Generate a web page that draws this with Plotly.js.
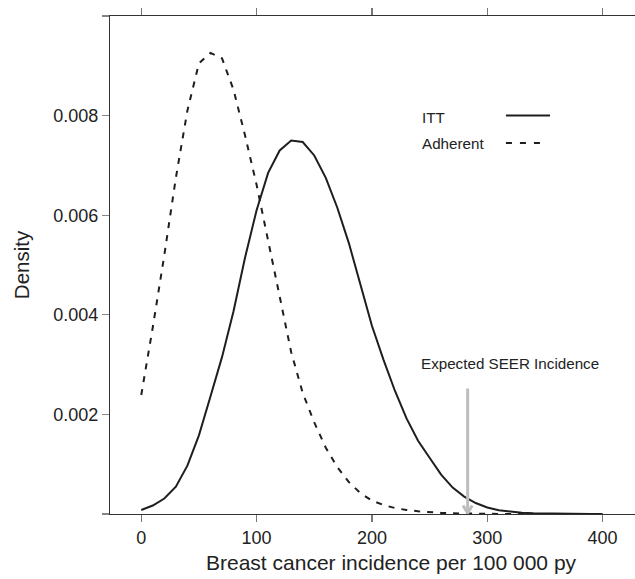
<!DOCTYPE html>
<html>
<head>
<meta charset="utf-8">
<script src="https://cdn.plot.ly/plotly-3.0.1.min.js"></script>
<style>html,body{margin:0;padding:0;background:#fff;}#chart{width:635px;height:579px;}</style>
</head>
<body>
<div id="chart"></div>
<script>
// Incidence grid (per 100 000 py)
var incidence = [0,10,20,30,40,50,60,70,80,90,100,110,120,130,140,150,160,170,180,190,200,210,220,230,240,250,260,270,280,290,300,310,320,330,340,350,360,370,380,390,400];
// Density values (x 0.001)
var ittDensityK = [0.08,0.17,0.31,0.55,0.97,1.58,2.36,3.15,4.07,5.15,6.1,6.85,7.3,7.5,7.47,7.2,6.75,6.15,5.44,4.6,3.78,3.1,2.47,1.92,1.47,1.13,0.79,0.53,0.35,0.22,0.13,0.075,0.045,0.025,0.015,0.01,0.006,0.003,0.002,0.001,0.0];
var adherentDensityK = [2.39,3.75,5.2,6.75,8.1,9.05,9.26,9.15,8.52,7.6,6.61,5.48,4.37,3.25,2.43,1.84,1.33,0.94,0.64,0.42,0.27,0.18,0.12,0.08,0.055,0.035,0.022,0.014,0.008,0.005,0.003,0.002,0.001,0.0,0.0,0.0,0.0,0.0,0.0,0.0,0.0];
var seriesNames = ["ITT","Adherent"];
var xTicks = [0,100,200,300,400];
var yTicks = [0.002,0.004,0.006,0.008];
var yTickText = ["0.002","0.004","0.006","0.008"];
var seerIncidence = 283;
var seerLabel = "Expected SEER Incidence";
var xTitle = "Breast cancer incidence per 100 000 py";
var yTitle = "Density";

var toDensity = function(a){ return a.map(function(v){ return v/1000; }); };
var ink = "#1e1e1e";
var font = "Liberation Sans, Arial, Helvetica, sans-serif";

var traces = [
  {x: incidence, y: toDensity(ittDensityK), name: seriesNames[0], type: "scatter", mode: "lines",
   line: {color: ink, width: 2}, hoverinfo: "skip"},
  {x: incidence, y: toDensity(adherentDensityK), name: seriesNames[1], type: "scatter", mode: "lines",
   line: {color: ink, width: 2, dash: "6px,7px"}, hoverinfo: "skip"}
];

var layout = {
  width: 635, height: 579,
  margin: {l: 110, r: 0, t: 16, b: 65},
  paper_bgcolor: "#fff", plot_bgcolor: "#fff",
  showlegend: false,
  font: {family: font, color: "#222"},
  xaxis: {
    range: [-27.1, 428.1], tickvals: xTicks, ticktext: xTicks.map(String),
    ticks: "outside", ticklen: 7, tickwidth: 1.2, tickcolor: "#777",
    showline: true, linecolor: "#333", linewidth: 1.2, mirror: "ticks",
    showgrid: false, zeroline: false,
    tickfont: {size: 18, color: "#222", family: font}
  },
  yaxis: {
    range: [0, 0.01], tickvals: yTicks, ticktext: yTickText,
    ticks: "outside", ticklen: 7, tickwidth: 1.2, tickcolor: "#888",
    showline: true, linecolor: "#333", linewidth: 1.2,
    showgrid: false, zeroline: false,
    tickfont: {size: 18, color: "#222", family: font},
    title: {text: yTitle, font: {size: 20.5, color: "#222", family: font}, standoff: 18}
  },
  shapes: [
    {type: "line", xref: "paper", yref: "paper", x0: -8/525, x1: 0, y0: 0, y1: 0, line: {color: "#333", width: 1.2}},
    {type: "line", xref: "paper", yref: "paper", x0: -8/525, x1: 0, y0: 1, y1: 1, line: {color: "#333", width: 1.2}},
    // legend samples
    {type: "line", xref: "x", yref: "y", x0: 316.2, x1: 354.4, y0: 0.00800, y1: 0.00800, line: {color: ink, width: 2}},
    {type: "line", xref: "x", yref: "y", x0: 316.2, x1: 350.5, y0: 0.00745, y1: 0.00745, line: {color: ink, width: 2, dash: "6px,8px"}},
    // SEER arrow
    {type: "line", xref: "x", yref: "y", x0: seerIncidence, x1: seerIncidence, y0: 0.00252, y1: 0.00003, line: {color: "#bdbdbd", width: 3}},
    {type: "path", xref: "x", yref: "y", path: "M " + (seerIncidence-4) + ",0.00017 L " + seerIncidence + ",0.00002 L " + (seerIncidence+4) + ",0.00017",
     line: {color: "#bdbdbd", width: 3}}
  ],
  annotations: [
    {xref: "x", yref: "y", x: 242, y: 0.00797, text: seriesNames[0], showarrow: false, xanchor: "left", yanchor: "middle",
     font: {size: 15.2, color: "#222", family: font}},
    {xref: "x", yref: "y", x: 242, y: 0.00744, text: seriesNames[1], showarrow: false, xanchor: "left", yanchor: "middle",
     font: {size: 15.2, color: "#222", family: font}},
    {xref: "x", yref: "y", x: 319.6, y: 0.00303, text: seerLabel, showarrow: false, xanchor: "center", yanchor: "middle",
     font: {size: 15.2, color: "#222", family: font}},
    {xref: "paper", yref: "paper", x: (391-110)/525, y: -(562-514)/498, text: xTitle, showarrow: false, xanchor: "center", yanchor: "middle",
     font: {size: 21, color: "#222", family: font}}
  ]
};

Plotly.newPlot("chart", traces, layout, {staticPlot: true, displayModeBar: false});
</script>
</body>
</html>
